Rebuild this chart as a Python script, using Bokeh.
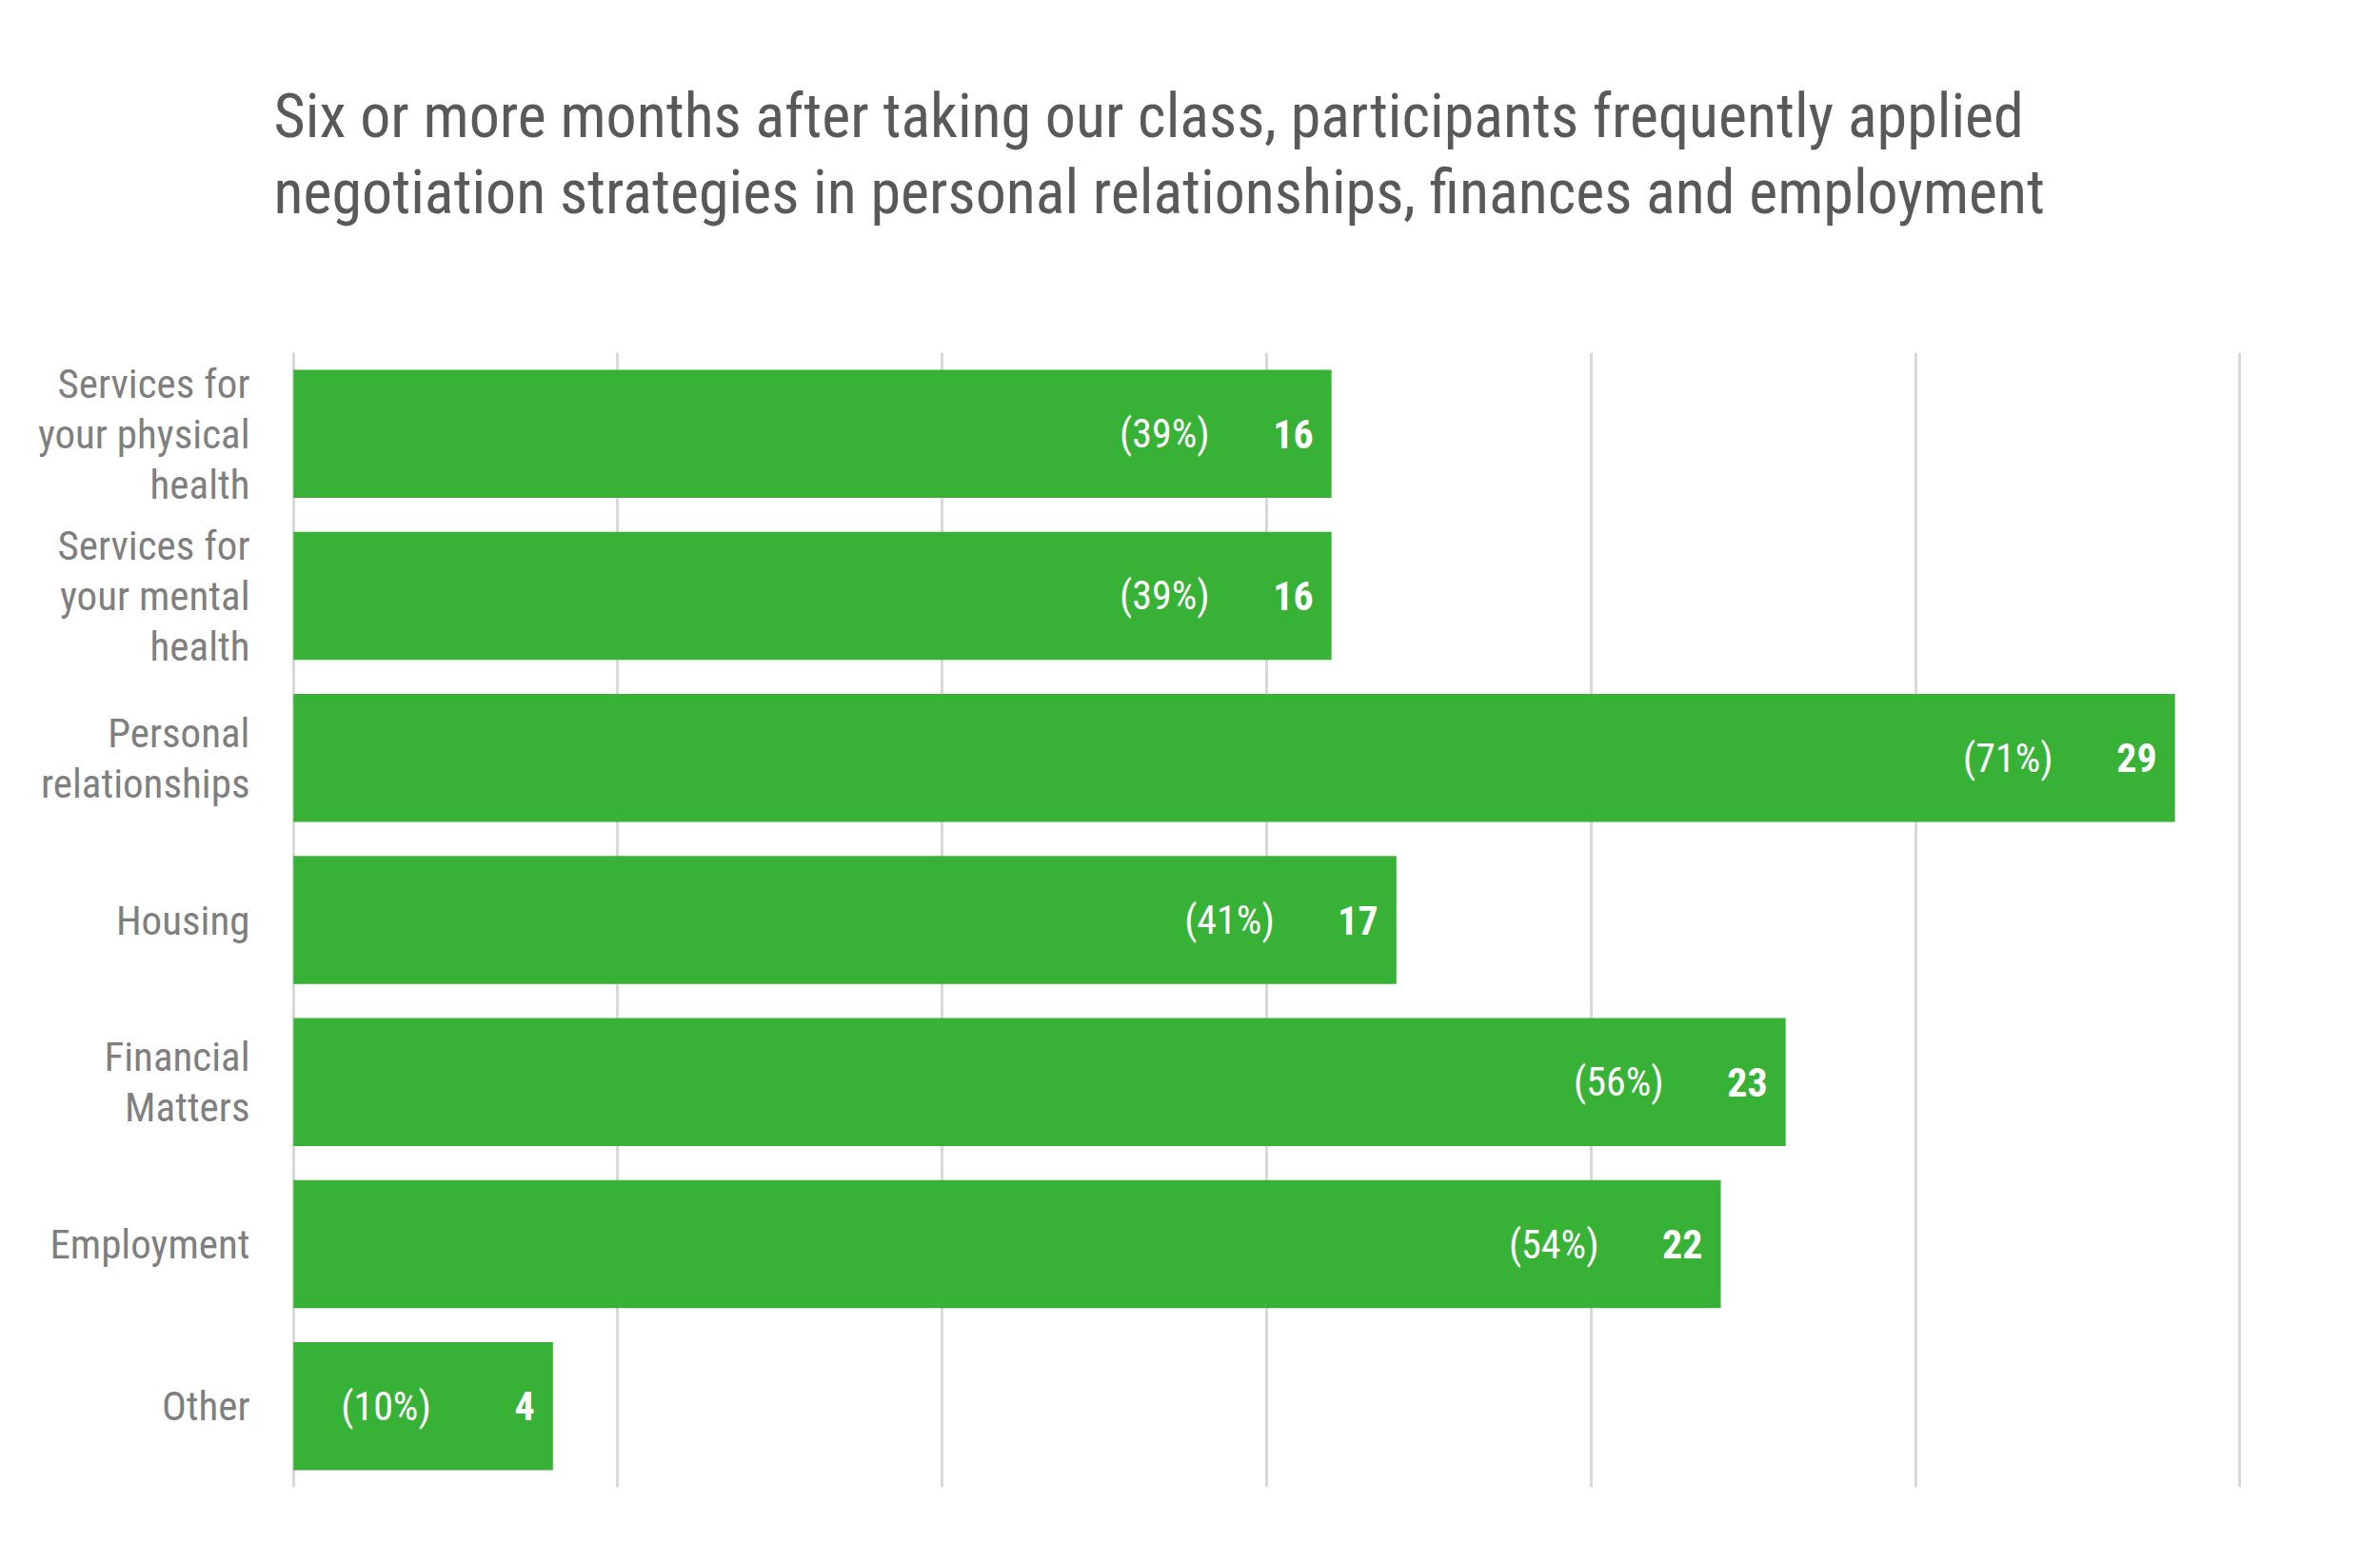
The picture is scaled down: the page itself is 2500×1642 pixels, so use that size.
from bokeh.plotting import figure
from bokeh.models import FactorRange, Range1d, FixedTicker, ColumnDataSource, Title
from bokeh.core.properties import value
from bokeh.embed import file_html
from bokeh.resources import INLINE

categories = [
    "Services for\nyour physical\nhealth",
    "Services for\nyour mental\nhealth",
    "Personal\nrelationships",
    "Housing",
    "Financial\nMatters",
    "Employment",
    "Other",
]
counts = [16, 16, 29, 17, 23, 22, 4]
percents = [39, 39, 71, 41, 56, 54, 10]
grid_ticks = [0, 5, 10, 15, 20, 25, 30]
title_text = ("Six or more months after taking our class, participants frequently applied\n"
              "negotiation strategies in personal relationships, finances and employment")

FONT = "'Roboto Condensed', 'Liberation Sans Narrow', Roboto, sans-serif"
GREEN = "#38B236"

src = ColumnDataSource(dict(
    cat=categories,
    count=counts,
    count_txt=[str(c) for c in counts],
    pct_txt=["(%d%%)" % p for p in percents],
))

W, H = 2480, 1620
p = figure(
    width=W, height=H,
    y_range=FactorRange(factors=list(reversed(categories))),
    x_range=Range1d(-0.04, 30.04),
    output_backend="svg", toolbar_location=None,
    min_border_left=305, min_border_right=125,
    min_border_top=370, min_border_bottom=58,
)
p.outline_line_color = None
p.background_fill_color = "white"
p.border_fill_color = "white"

p.hbar(y="cat", right="count", left=0, height=0.79, source=src,
       fill_color=GREEN, line_color=None)

p.text(x="count", y="cat", text="count_txt", source=src,
       x_offset=-19, text_align="right", text_baseline="middle",
       text_font=value(FONT), text_font_style="bold", text_font_size="42px",
       text_color="white")
p.text(x="count", y="cat", text="pct_txt", source=src,
       x_offset=-128, text_align="right", text_baseline="middle",
       text_font=value(FONT), text_font_size="42px",
       text_color="white")

p.xaxis.visible = False
p.xgrid.ticker = FixedTicker(ticks=grid_ticks)
p.xgrid.grid_line_color = "#d9d9d9"
p.xgrid.grid_line_width = 3
p.ygrid.grid_line_color = None

ax = p.yaxis[0]
ax.axis_line_color = None
ax.major_tick_line_color = None
ax.minor_tick_line_color = None
ax.major_label_standoff = 37
ax.major_label_text_font = FONT
ax.major_label_text_font_size = "43px"
ax.major_label_text_color = "#7f7f7f"
ax.major_label_text_align = "right"
ax.major_label_text_line_height = 1.06

# spacer between the title block and the plot frame
p.add_layout(Title(text=" ", standoff=114, text_font_size="13px"), "above")
p.add_layout(Title(
    text=title_text, align="left", offset=-18, standoff=0,
    vertical_align="bottom",
    text_font=FONT, text_font_size="64px", text_font_style="normal",
    text_color="#595959", text_line_height=1.06,
), "above")

open("out.html", "w").write(file_html(p, INLINE))
